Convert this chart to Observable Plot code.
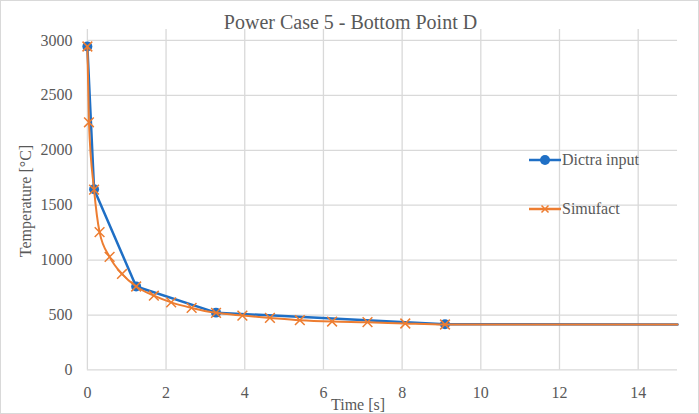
<!DOCTYPE html>
<html><head><meta charset="utf-8">
<script src="https://cdn.jsdelivr.net/npm/d3@7"></script>
<script src="https://cdn.jsdelivr.net/npm/@observablehq/plot@0.6"></script>
<style>
body{margin:0;background:#fff;}
#wrap{position:relative;width:699px;height:414px;box-sizing:border-box;border:1px solid #d9d9d9;font-family:"Liberation Serif","Times New Roman","DejaVu Serif",serif;color:#595959;overflow:hidden;}
#chart{position:absolute;left:-1px;top:-1px;}
#title{position:absolute;left:0;width:699px;top:9px;text-align:center;font-size:20px;line-height:24px;}
#xlabel{position:absolute;left:330px;top:395px;font-size:16px;line-height:18px;}
#ylabel{position:absolute;left:25px;top:200px;font-size:16px;line-height:18px;transform:translate(-50%,-50%) rotate(-90deg);white-space:nowrap;}
.leg{position:absolute;left:527px;font-size:16px;line-height:18px;display:flex;align-items:center;}
.leg svg{display:block;margin-right:1px;}
</style></head><body><div id="wrap">
<div id="chart"></div>
<div id="title">Power Case 5 - Bottom Point D</div>
<div id="ylabel">Temperature [°C]</div>
<div id="xlabel">Time [s]</div>
<div class="leg" style="top:150px"><svg width="33" height="14"><line x1="1" y1="7" x2="33" y2="7" stroke="#1f6fc5" stroke-width="2.5"/><circle cx="17" cy="7" r="5" fill="#1f6fc5"/></svg>Dictra input</div>
<div class="leg" style="top:199px"><svg width="33" height="14"><line x1="1" y1="7" x2="33" y2="7" stroke="#ED7D31" stroke-width="2.5"/><path d="M13.5,3.5L20.5,10.5M20.5,3.5L13.5,10.5" stroke="#ED7D31" stroke-width="1.5"/></svg>Simufact</div>
</div>
<script>
const dictraTime = [0, 0.17, 1.24, 3.27, 9.09, 15];
const dictraTemp = [2945, 1645, 760, 522, 416, 414];
const simTime = [0, 0.04, 0.17, 0.31, 0.565, 0.88, 1.24, 1.69, 2.13, 2.65, 3.27, 3.94, 4.64, 5.4, 6.22, 7.12, 8.08, 9.09, 15];
const simTemp = [2945, 2255, 1642, 1255, 1030, 874, 760, 676, 615, 565, 520, 495, 474, 453, 441, 435, 423, 414, 414];
const xTicks = [0, 2, 4, 6, 8, 10, 12, 14];
const yTicks = [0, 500, 1000, 1500, 2000, 2500, 3000];

const dictra = dictraTime.map((t, i) => ({t, v: dictraTemp[i]}));
const sim = simTime.map((t, i) => ({t, v: simTemp[i]}));
const blue = "#1f6fc5", orange = "#ED7D31", grid = "#d9d9d9";
const font = "'Liberation Serif', 'Times New Roman', 'DejaVu Serif', serif";

const chart = Plot.plot({
  width: 699, height: 414,
  marginLeft: 87, marginRight: 21, marginTop: 29, marginBottom: 44,
  style: {fontFamily: font, fontSize: "16px", color: "#595959", background: "transparent"},
  x: {domain: [0, 15]},
  y: {domain: [0, 3100]},
  marks: [
    Plot.gridX(xTicks, {stroke: grid, strokeOpacity: 1, strokeWidth: 1.3}),
    Plot.gridY(yTicks, {stroke: grid, strokeOpacity: 1, strokeWidth: 1.3}),
    Plot.axisX(xTicks, {tickSize: 0, tickPadding: 17, fontSize: 16, label: null, tickFormat: d => String(d), fontFamily: font}),
    Plot.axisY(yTicks, {tickSize: 0, tickPadding: 15, fontSize: 16, label: null, tickFormat: d => String(d), fontFamily: font}),
    Plot.line(dictra, {x: "t", y: "v", stroke: blue, strokeWidth: 2.5}),
    Plot.dot(dictra.filter(d => d.t < 15), {x: "t", y: "v", r: 5, fill: blue, stroke: "none"}),
    Plot.line(sim, {x: "t", y: "v", stroke: orange, strokeWidth: 2, curve: "monotone-x"}),
    Plot.dot(sim.filter(d => d.t < 15), {x: "t", y: "v", symbol: "times", r: 4.5, stroke: orange, strokeWidth: 1.5})
  ]
});
document.getElementById("chart").appendChild(chart);
</script>
</body></html>
